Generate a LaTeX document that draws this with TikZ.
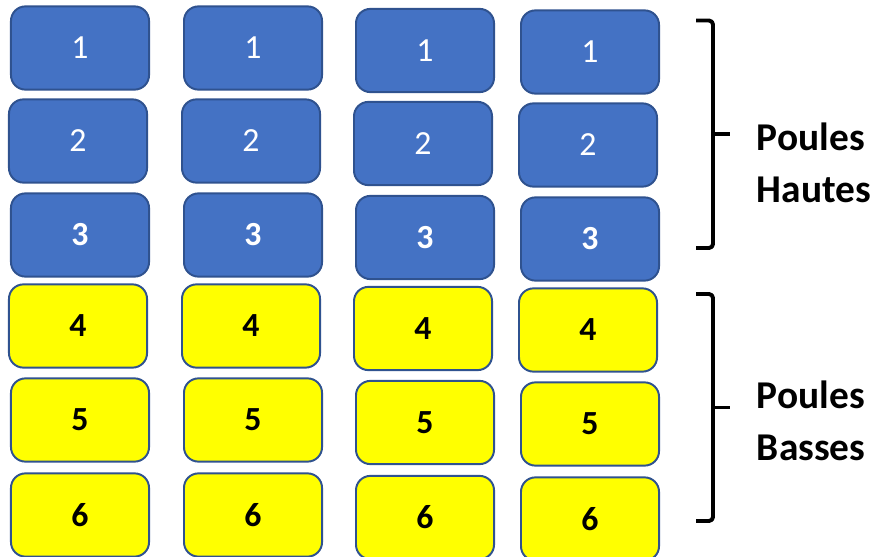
\documentclass[tikz,border=0pt]{standalone}
\usepackage{fontspec}
\setmainfont{Carlito}
\usepackage{tikz}

\definecolor{pouleblue}{HTML}{4472C4}
\definecolor{pouleedge}{HTML}{2F528F}
\definecolor{pouleyellow}{HTML}{FFFF00}

\begin{document}
\begin{tikzpicture}[
	x=0.025cm, y=-0.025cm,
	poule/.style={draw=pouleedge, line width=1.4pt, rounded corners=0.36cm,
		minimum width=3.45cm, minimum height=2.08cm, inner sep=0pt,
		font=\fontsize{24}{28}\selectfont},
	haute/.style={poule, fill=pouleblue, text=white},
	basse/.style={poule, fill=pouleyellow, text=black, font=\fontsize{24}{28}\selectfont\bfseries},
	brace/.style={line width=2.8pt, rounded corners=0.1cm},
	line join=round
	]
	
	\useasboundingbox (0,0) rectangle (880,557);
	
	% Colonnes
	\foreach \c/\x/\dy in {1/80/0, 2/253/0, 3/425/2.5, 4/590/4}{
		\node[haute] (p\c-1) at (\x,48+\dy) {1};
		\node[haute] (p\c-2) at (\x-2,141+\dy) {2};
		\node[haute, font=\fontsize{24}{28}\selectfont\bfseries] (p\c-3) at (\x,235+\dy) {3};
		\node[basse] (p\c-4) at (\x-2,326+\dy) {4};
		\node[basse] (p\c-5) at (\x,420+\dy) {5};
		\node[basse] (p\c-6) at (\x,515+\dy) {6};
	}
	
	% Accolades
	\draw[brace] (696,20.5) -- (713,20.5) -- (713,248) -- (696,248);
	\draw[brace] (713,134) -- (730,134);
	\draw[brace] (696,294) -- (713,294) -- (713,521) -- (696,521);
	\draw[brace] (713,407.5) -- (730,407.5);
	
	\node[font=\fontsize{28}{37}\selectfont\bfseries, align=left, anchor=west] (hautes) at (752,163) {Poules\\Hautes};
	\node[font=\fontsize{28}{37}\selectfont\bfseries, align=left, anchor=west] (basses) at (752,421) {Poules\\Basses};
	
\end{tikzpicture}
\end{document}
